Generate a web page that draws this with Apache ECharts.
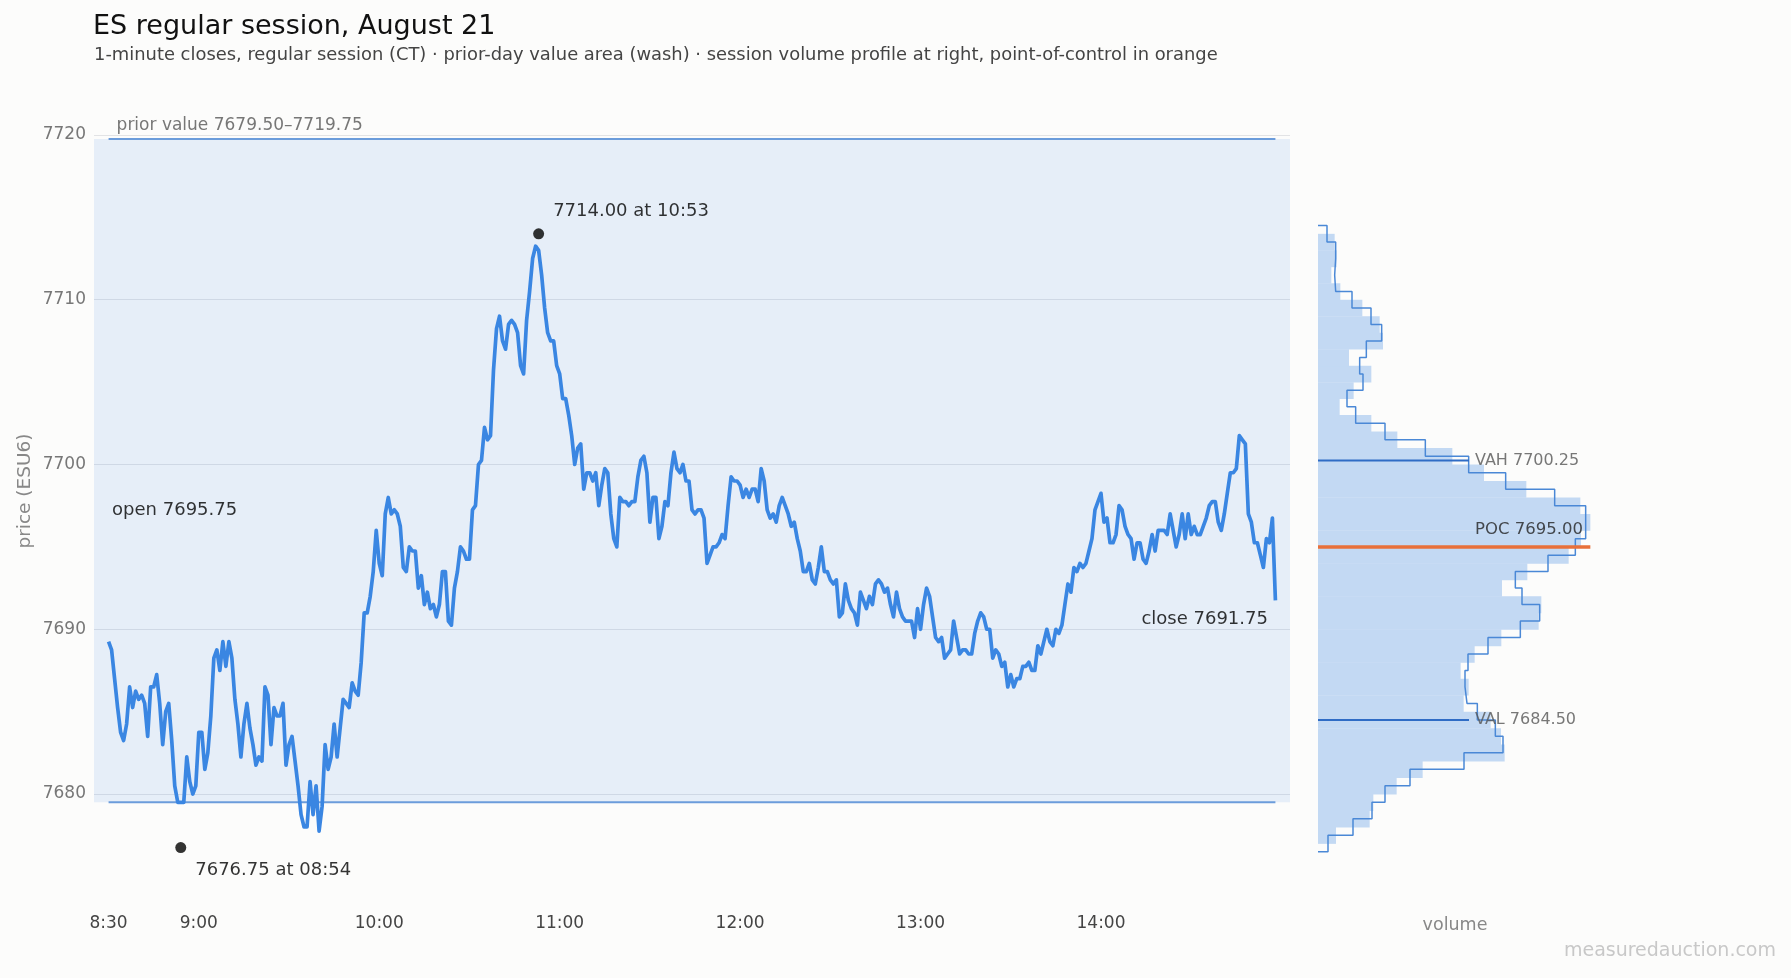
<!DOCTYPE html>
<html>
<head>
<meta charset="utf-8">
<script src="https://cdn.jsdelivr.net/npm/echarts@6/dist/echarts.min.js"></script>
<style>
html,body{margin:0;padding:0;background:#fcfcfb;}
#chart{width:1791px;height:978px;}
</style>
</head>
<body>
<div id="chart"></div>
<script>
// ---- data ----
// 1-minute closes, index = minutes after 8:30 CT
const closes = [
7689.25,7688.75,7687,7685.25,7683.75,7683.25,7684.25,7686.5,7685.25,7686.25,
7685.75,7686,7685.5,7683.5,7686.5,7686.5,7687.25,7685.5,7683,7685,
7685.5,7683.25,7680.5,7679.5,7679.5,7679.5,7682.25,7680.75,7680,7680.5,
7683.75,7683.75,7681.5,7682.5,7684.75,7688.25,7688.75,7687.5,7689.25,7687.75,
7689.25,7688.25,7685.75,7684.25,7682.25,7684.25,7685.5,7684,7683,7681.75,
7682.25,7682,7686.5,7686,7683,7685.25,7684.75,7684.75,7685.5,7681.75,
7683,7683.5,7682,7680.5,7678.75,7678,7678,7680.75,7678.75,7680.5,
7677.75,7679.25,7683,7681.5,7682.25,7684.25,7682.25,7684,7685.75,7685.5,
7685.25,7686.75,7686.25,7686,7688,7691,7691,7692,7693.5,7696,
7694,7693.25,7697,7698,7697,7697.25,7697,7696.25,7693.75,7693.5,
7695,7694.75,7694.75,7692.5,7693.25,7691.5,7692.25,7691.25,7691.5,7690.75,
7691.5,7693.5,7693.5,7690.5,7690.25,7692.5,7693.5,7695,7694.75,7694.25,
7694.25,7697.25,7697.5,7700,7700.25,7702.25,7701.5,7701.75,7705.75,7708.25,
7709,7707.5,7707,7708.5,7708.75,7708.5,7708,7706,7705.5,7708.75,
7710.5,7712.5,7713.25,7713,7711.5,7709.5,7708,7707.5,7707.5,7706,
7705.5,7704,7704,7703,7701.75,7700,7701,7701.25,7698.5,7699.5,
7699.5,7699,7699.5,7697.5,7698.75,7699.75,7699.5,7697,7695.5,7695,
7698,7697.75,7697.75,7697.5,7697.75,7697.75,7699.25,7700.25,7700.5,7699.5,
7696.5,7698,7698,7695.5,7696.25,7697.75,7697.5,7699.5,7700.75,7699.75,
7699.5,7700,7699,7699,7697.25,7697,7697.25,7697.25,7696.75,7694,
7694.5,7695,7695,7695.25,7695.75,7695.5,7697.5,7699.25,7699,7699,
7698.75,7698,7698.5,7698,7698.5,7698.5,7697.75,7699.75,7699,7697.25,
7696.75,7697,7696.5,7697.5,7698,7697.5,7697,7696.25,7696.5,7695.5,
7694.75,7693.5,7693.5,7694,7693,7692.75,7693.75,7695,7693.5,7693.5,
7693,7692.75,7693,7690.75,7691,7692.75,7691.75,7691.25,7691,7690.25,
7692.25,7691.75,7691.25,7692,7691.5,7692.75,7693,7692.75,7692.25,7692.5,
7691.5,7690.75,7692.25,7691.25,7690.75,7690.5,7690.5,7690.5,7689.5,7691.25,
7690,7691.5,7692.5,7692,7690.75,7689.5,7689.25,7689.5,7688.25,7688.5,
7688.75,7690.5,7689.5,7688.5,7688.75,7688.75,7688.5,7688.5,7689.75,7690.5,
7691,7690.75,7690,7690,7688.25,7688.75,7688.5,7687.75,7688,7686.5,
7687.25,7686.5,7687,7687,7687.75,7687.75,7688,7687.5,7687.5,7689,
7688.5,7689.25,7690,7689.25,7689,7690,7689.75,7690.25,7691.5,7692.75,
7692.25,7693.75,7693.5,7694,7693.75,7694,7694.75,7695.5,7697.25,7697.75,
7698.25,7696.5,7696.75,7695.25,7695.25,7695.75,7697.5,7697.25,7696.25,7695.75,
7695.5,7694.25,7695.25,7695.25,7694.25,7694,7694.75,7695.75,7694.75,7696,
7696,7696,7695.75,7697,7696,7695,7695.75,7697,7695.5,7697,
7695.75,7696.25,7695.75,7695.75,7696.25,7696.75,7697.5,7697.75,7697.75,7696.5,
7696,7697,7698.25,7699.5,7699.5,7699.75,7701.75,7701.5,7701.25,7697,
7696.5,7695.25,7695.25,7694.5,7693.75,7695.5,7695.25,7696.75,7691.75
];
const xTickMinutes = [0, 30, 90, 150, 210, 270, 330];
const xTickLabels = ['8:30', '9:00', '10:00', '11:00', '12:00', '13:00', '14:00'];
const yTickValues = [7680, 7690, 7700, 7710, 7720];
const openPrice = 7695.75;
const closePrice = 7691.75;
const priorValueArea = [7679.50, 7719.75];
// [minute, price, label]
const extremes = [
  [143, 7714.00, '7714.00 at 10:53'],
  [24, 7676.75, '7676.75 at 08:54']
];
// session volume profile: 1-point bins, lower edge price
const profileBins = [7677,7678,7679,7680,7681,7682,7683,7684,7685,7686,7687,7688,7689,7690,7691,7692,7693,7694,7695,7696,7697,7698,7699,7700,7701,7702,7703,7704,7705,7706,7707,7708,7709,7710,7711,7712,7713];
const profileVolume = [1080,3100,3320,4720,6280,11200,10980,10360,8740,9040,8560,9400,11000,13240,13400,11040,12560,15040,15780,16340,15740,12500,9960,8060,4760,3200,1300,2140,3200,1860,3900,3700,2660,1340,800,1120,1000];
const profileBinSize = 1;
// outline profile: bins centred on whole points
const outlineCenters = [7677,7678,7679,7680,7681,7682,7683,7684,7685,7686,7687,7688,7689,7690,7691,7692,7693,7694,7695,7696,7697,7698,7699,7700,7701,7702,7703,7704,7705,7706,7707,7708,7709,7710,7711,7712,7713,7714];
const outlineVolume = [600,2100,3240,4020,5520,8760,11100,10640,9560,8940,8820,9000,10200,12140,13300,12240,11840,13800,15440,16060,16060,14200,11260,9040,6440,4020,2260,1740,2700,2500,2900,3820,3180,2040,1060,1000,1060,540];
const vah = 7700.25, poc = 7695.00, val = 7684.50;
const vaLineVolume = 9060;

// ---- build ----
const FONT = 'DejaVu Sans';
const lineData = closes.map((c, i) => [i, c]);
const lastIdx = closes.length - 1;
const fillData = profileBins.map((b, i) => [profileVolume[i], b]);
const outlinePts = [];
const half = profileBinSize / 2;
for (let i = outlineCenters.length - 1; i >= 0; i--) {
  const c = outlineCenters[i], v = outlineVolume[i];
  if (i === outlineCenters.length - 1) outlinePts.push([0, c + half]);
  outlinePts.push([v, c + half]);
  outlinePts.push([v, c - half]);
  if (i === 0) outlinePts.push([0, c - half]);
}
const maxVol = Math.max(...profileVolume);

const Y_MIN = 7674, Y_MAX = 7721;
const gridTop = 118.5, gridH = 774.4;

const chart = echarts.init(document.getElementById('chart'), null, {renderer: 'canvas'});
const option = {
  backgroundColor: '#fcfcfb',
  animation: false,
  textStyle: {fontFamily: FONT},
  title: [
    {text: 'ES regular session, August 21', left: 93, top: 13, padding: 0,
     textStyle: {fontFamily: FONT, fontSize: 27, fontWeight: 'normal', color: '#111'}},
    {text: '1-minute closes, regular session (CT) · prior-day value area (wash) · session volume profile at right, point-of-control in orange',
     left: 94, top: 46, padding: 0,
     textStyle: {fontFamily: FONT, fontSize: 17.9, fontWeight: 'normal', color: '#444'}}
  ],
  grid: [
    {left: 94, width: 1196, top: gridTop, height: gridH},
    {left: 1318, width: 282, top: gridTop, height: gridH}
  ],
  xAxis: [
    {type: 'value', gridIndex: 0, min: -4.85, max: 392.85,
     axisLine: {show: false}, axisTick: {show: false, customValues: xTickMinutes}, splitLine: {show: false},
     axisLabel: {customValues: xTickMinutes, margin: 22, fontSize: 17, color: '#444', fontFamily: FONT,
       formatter: v => { const k = xTickMinutes.indexOf(v); return k >= 0 ? xTickLabels[k] : ''; }}},
    {type: 'value', gridIndex: 1, min: 0, max: 16920,
     name: 'volume', nameLocation: 'middle', nameGap: 24,
     nameTextStyle: {fontSize: 17.5, color: '#888', fontFamily: FONT, padding: [0, 8, 0, 0]},
     axisLine: {show: false}, axisTick: {show: false}, axisLabel: {show: false}, splitLine: {show: false}}
  ],
  yAxis: [
    {type: 'value', gridIndex: 0, min: Y_MIN, max: Y_MAX,
     axisLine: {show: false}, axisTick: {show: false, customValues: yTickValues},
     axisLabel: {customValues: yTickValues, margin: 8, fontSize: 17, color: '#777', fontFamily: FONT,
       formatter: v => String(v)},
     splitLine: {show: true, lineStyle: {color: '#e2e3e5', width: 1.2}}},
    {type: 'value', gridIndex: 1, min: Y_MIN, max: Y_MAX, show: false, splitLine: {show: false}}
  ],
  graphic: [
    {type: 'text', x: 25, y: 491, rotation: Math.PI / 2,
     style: {text: 'price (ESU6)', fontFamily: FONT, fontSize: 18.5, fill: '#888', align: 'center', verticalAlign: 'middle'}},
    {type: 'text', x: 1776, y: 951,
     style: {text: 'measuredauction.com', fontFamily: FONT, fontSize: 19, fill: '#c8c8c8', align: 'right', verticalAlign: 'middle'}}
  ],
  series: [
    {type: 'line', name: 'wash', xAxisIndex: 0, yAxisIndex: 0, data: [], silent: true,
     markArea: {silent: true, itemStyle: {color: 'rgba(59,135,228,0.115)'},
       data: [[{yAxis: priorValueArea[0]}, {yAxis: priorValueArea[1]}]]}},
    {type: 'line', name: 'pvHigh', xAxisIndex: 0, yAxisIndex: 0, silent: true, symbol: 'none',
     data: [[0, priorValueArea[1]], [lastIdx, priorValueArea[1]]], lineStyle: {color: '#6b9cdb', width: 2}},
    {type: 'line', name: 'pvLow', xAxisIndex: 0, yAxisIndex: 0, silent: true, symbol: 'none',
     data: [[0, priorValueArea[0]], [lastIdx, priorValueArea[0]]], lineStyle: {color: '#6b9cdb', width: 2}},
    {type: 'line', name: 'close', xAxisIndex: 0, yAxisIndex: 0, symbol: 'none', z: 5,
     data: lineData, lineStyle: {color: '#3a86e2', width: 3.7, join: 'round'}},
    {type: 'scatter', name: 'extremes', xAxisIndex: 0, yAxisIndex: 0, z: 6, symbolSize: 11,
     itemStyle: {color: '#000'},
     data: extremes.map((e, i) => ({value: [e[0], e[1]],
       label: {show: true, formatter: e[2], position: 'right', distance: 9, offset: [0, i === 0 ? -23 : 23],
         fontSize: 18, color: '#000', fontFamily: FONT}}))},
    {type: 'scatter', name: 'notes', xAxisIndex: 0, yAxisIndex: 0, z: 6, symbolSize: 0, silent: true,
     data: [
       {value: [0, priorValueArea[1]], label: {show: true, formatter: 'prior value ' + priorValueArea[0].toFixed(2) + '–' + priorValueArea[1].toFixed(2),
         position: 'right', distance: 8, offset: [0, -13.5], fontSize: 17, color: '#555', fontFamily: FONT}},
       {value: [0, openPrice], label: {show: true, formatter: 'open ' + openPrice.toFixed(2),
         position: 'right', distance: 3.5, offset: [0, -24], fontSize: 18, color: '#000', fontFamily: FONT}},
       {value: [lastIdx, closePrice], label: {show: true, formatter: 'close ' + closePrice.toFixed(2),
         position: 'left', distance: 7.5, offset: [0, 19], fontSize: 18, color: '#000', fontFamily: FONT}}
     ]},
    // profile
    {type: 'custom', name: 'profile', xAxisIndex: 1, yAxisIndex: 1, silent: true, z: 2,
     data: fillData, encode: {x: 0, y: 1},
     renderItem: (params, api) => {
       const v = api.value(0), lo = api.value(1);
       const a = api.coord([0, lo + profileBinSize]);
       const b = api.coord([v, lo]);
       return {type: 'rect', shape: {x: a[0], y: a[1], width: b[0] - a[0], height: b[1] - a[1] + 0.4},
         style: {fill: '#c3d9f3'}};
     }},
    {type: 'line', name: 'outline', xAxisIndex: 1, yAxisIndex: 1, silent: true, symbol: 'none', z: 3,
     data: outlinePts, lineStyle: {color: '#4a88d6', width: 1.5}},
    {type: 'line', name: 'VAH', xAxisIndex: 1, yAxisIndex: 1, silent: true, symbol: 'none', z: 4,
     data: [[0, vah], [vaLineVolume, vah]], lineStyle: {color: '#2f6cc5', width: 2}},
    {type: 'line', name: 'VAL', xAxisIndex: 1, yAxisIndex: 1, silent: true, symbol: 'none', z: 4,
     data: [[0, val], [vaLineVolume, val]], lineStyle: {color: '#2f6cc5', width: 2}},
    {type: 'line', name: 'POC', xAxisIndex: 1, yAxisIndex: 1, silent: true, symbol: 'none', z: 4,
     data: [[0, poc], [maxVol, poc]], lineStyle: {color: '#e8703a', width: 3.5}},
    {type: 'scatter', name: 'vaLabels', xAxisIndex: 1, yAxisIndex: 1, symbolSize: 0, silent: true, z: 6,
     data: [
       {value: [vaLineVolume, vah], label: {show: true, formatter: 'VAH ' + vah.toFixed(2), position: 'right', distance: 6, fontSize: 16, color: '#555', fontFamily: FONT}},
       {value: [vaLineVolume, poc], label: {show: true, formatter: 'POC ' + poc.toFixed(2), position: 'right', distance: 6, offset: [0, -17], fontSize: 16.5, color: '#222', fontFamily: FONT}},
       {value: [vaLineVolume, val], label: {show: true, formatter: 'VAL ' + val.toFixed(2), position: 'right', distance: 6, fontSize: 16, color: '#555', fontFamily: FONT}}
     ]}
  ]
};
chart.setOption(option);
</script>
</body>
</html>
